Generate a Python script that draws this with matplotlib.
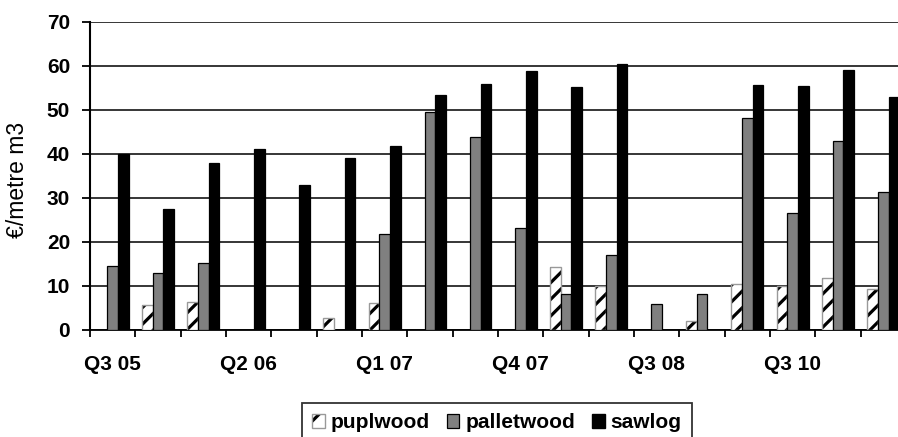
import numpy as np
import matplotlib.pyplot as plt
from matplotlib.patches import Patch

plt.rcParams['font.family'] = ['Liberation Sans', 'DejaVu Sans']
plt.rcParams['hatch.linewidth'] = 2.3

nan = np.nan

# one label for every third quarter, as on the chart
tick_labels = ['Q3 05', 'Q2 06', 'Q1 07', 'Q4 07', 'Q3 08', 'Q3 10']
label_every = 3

# €/metre m3 per quarter (nan = no value shown)
pulpwood = [nan, 5.7, 6.4, nan, nan, 2.7, 6.1, nan, nan, nan, 14.4, 10.0,
            nan, 2.0, 10.4, 10.0, 11.9, 9.2]
palletwood = [14.5, 13.0, 15.2, nan, nan, nan, 21.7, 49.5, 43.8, 23.1, 8.1, 17.0,
              5.8, 8.1, 48.1, 26.5, 43.0, 31.4]
sawlog = [40.0, 27.4, 37.9, 41.1, 33.0, 39.0, 41.9, 53.3, 55.9, 58.8, 55.3, 60.4,
          nan, nan, 55.7, 55.5, 59.2, 53.0]

n = len(sawlog)
x = np.arange(n) + 0.5
w = 0.235

fig = plt.figure(figsize=(8.98, 4.37), dpi=100)
ax = fig.add_axes([0.1002, 0.2449, 0.9087, 0.7048])


def draw(offset, values, **kw):
    v = np.array(values, dtype=float)
    m = ~np.isnan(v)
    ax.bar(x[m] + offset, v[m], w, zorder=3, **kw)


# pulpwood: black stripes on white, grey outline
draw(-w, pulpwood, color='white', edgecolor='black', hatch='//', linewidth=0)
draw(-w, pulpwood, fill=False, edgecolor='#999999', linewidth=1.0)
draw(0, palletwood, color='#808080', edgecolor='black', linewidth=0.9)
draw(w, sawlog, color='black', edgecolor='black', linewidth=0.9)

ax.set_xlim(0, n)
ax.set_ylim(0, 70)
ax.set_yticks(np.arange(0, 71, 10))
ax.yaxis.grid(True, color='black', linewidth=1.1, zorder=0)
ax.set_axisbelow(True)

ax.set_xticks(np.arange(n + 1), minor=True)
ax.set_xticks(x[::label_every])
ax.set_xticklabels(tick_labels)
ax.tick_params(axis='x', which='major', length=0, pad=18, labelsize=15)
ax.tick_params(axis='x', which='minor', length=5, width=1.3, direction='out')
ax.tick_params(axis='y', length=5.8, width=1.3, direction='out', pad=8.5, labelsize=15)
for lab in ax.get_xticklabels() + ax.get_yticklabels():
    lab.set_fontweight('bold')

for s in ['top', 'right']:
    ax.spines[s].set_visible(False)
ax.spines['left'].set_linewidth(1.5)
ax.spines['bottom'].set_linewidth(1.3)

fig.text(0.02, 0.588, '€/metre m3', rotation=90, ha='center', va='center', fontsize=16.5)

handles = [
    (Patch(facecolor='white', edgecolor='black', hatch='/', linewidth=0),
     Patch(fill=False, edgecolor='#999999', linewidth=1.0)),
    Patch(facecolor='#808080', edgecolor='black', linewidth=0.9),
    Patch(facecolor='black', edgecolor='black'),
]
leg = fig.legend(handles, ['puplwood', 'palletwood', 'sawlog'],
                 loc='upper center', bbox_to_anchor=(0.5535, 0.078), ncol=3,
                 frameon=True, fancybox=False, edgecolor='black',
                 prop={'weight': 'bold', 'size': 15},
                 handlelength=0.6, handleheight=0.6, handletextpad=0.3,
                 columnspacing=0.8, borderpad=0.5, borderaxespad=0)
leg.get_frame().set_linewidth(1.3)

fig.savefig('out.png', dpi=100)
